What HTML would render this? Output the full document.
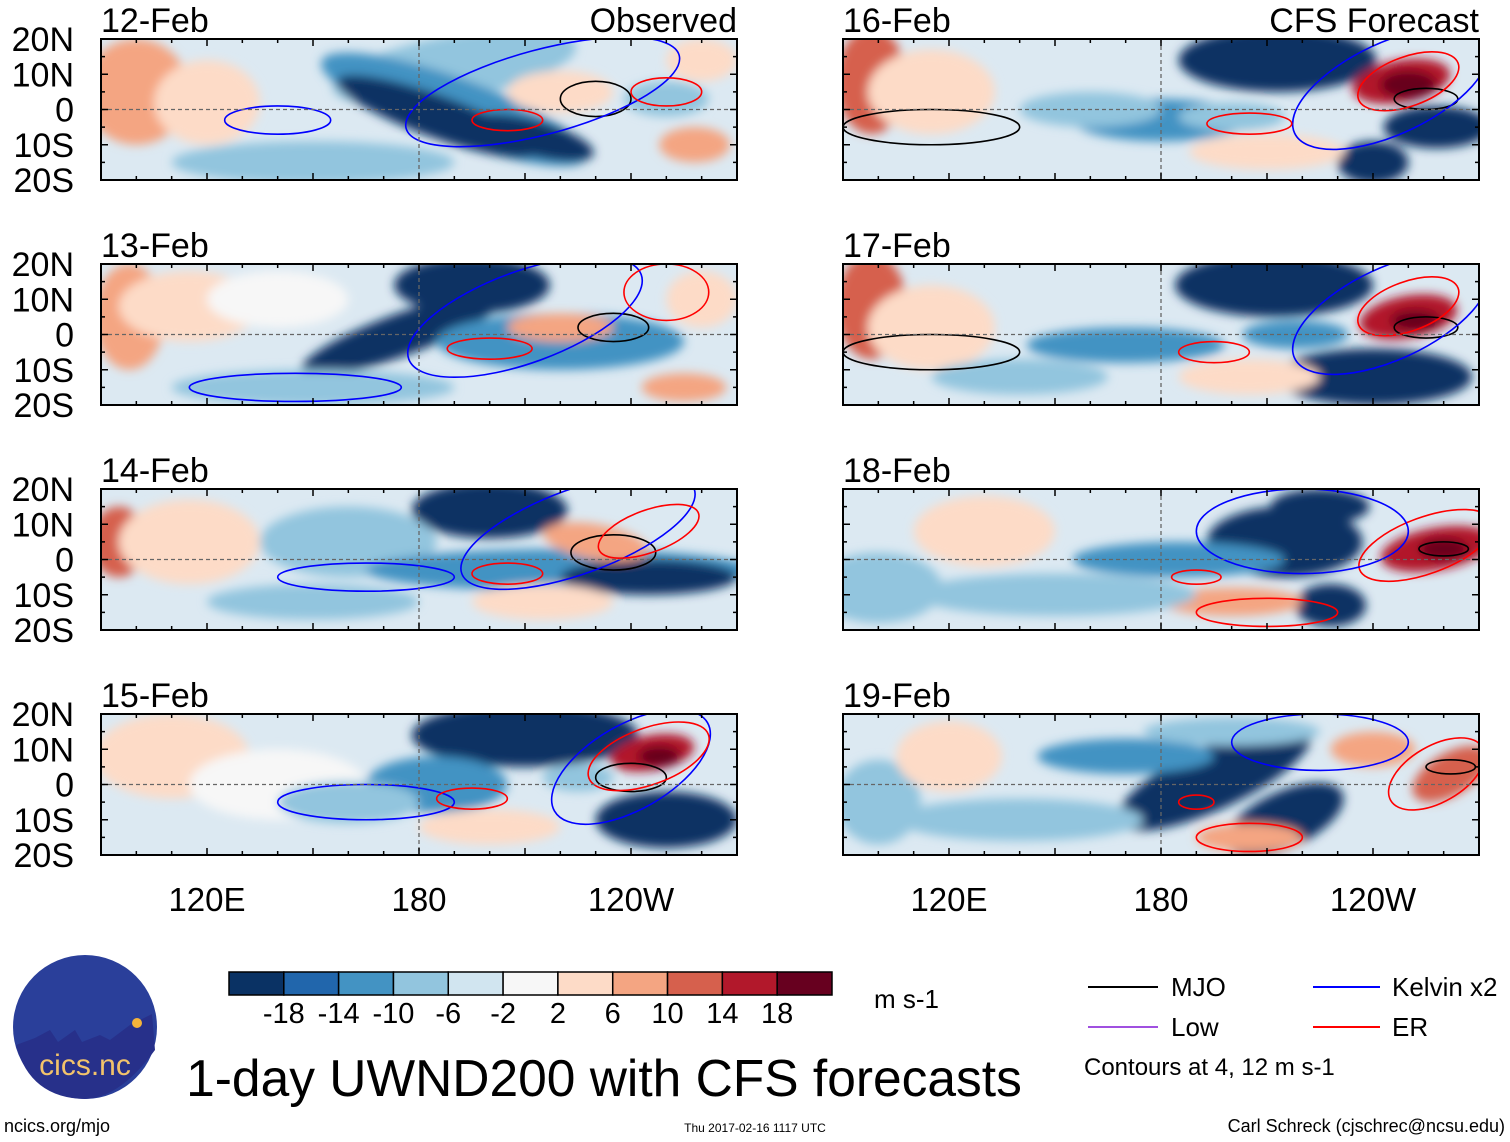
<!DOCTYPE html>
<html><head><meta charset="utf-8"><style>
body{margin:0;background:#fff;}
svg{display:block;font-family:"Liberation Sans",Arial,sans-serif;}
</style></head><body>
<svg id="chart" width="1510" height="1142" viewBox="0 0 1510 1142" xmlns="http://www.w3.org/2000/svg">
<defs>
<filter id="blur" x="-20%" y="-50%" width="140%" height="200%"><feGaussianBlur stdDeviation="5"/></filter>
</defs>
<g id="panels"></g>
<g id="colorbar"></g>
<g>
<circle cx="85" cy="1027" r="72" fill="#2a3f9a"/>
<path d="M16,1045 L35,1038 L50,1030 L58,1042 L75,1030 L82,1042 L100,1035 L110,1040 L130,1025 L152,1014 L155,1050 Q120,1098 85,1099 Q30,1098 16,1045Z" fill="#27308a"/>
<circle cx="137" cy="1023" r="5" fill="#f5b43a"/>
<text x="85" y="1075" text-anchor="middle" font-size="30" fill="#f2c36b">cics.nc</text>
</g>
<text x="604" y="1096" text-anchor="middle" font-size="51.5">1-day UWND200 with CFS forecasts</text>
<text x="874" y="1008" font-size="26">m s-1</text>
<g font-size="26">
<line x1="1088" y1="987" x2="1158" y2="987" stroke="#000" stroke-width="2"/>
<text x="1171" y="996">MJO</text>
<line x1="1313" y1="987" x2="1380" y2="987" stroke="#0000ff" stroke-width="2"/>
<text x="1392" y="996">Kelvin x2</text>
<line x1="1088" y1="1027" x2="1158" y2="1027" stroke="#a050e0" stroke-width="2"/>
<text x="1171" y="1036">Low</text>
<line x1="1313" y1="1027" x2="1380" y2="1027" stroke="#ff0000" stroke-width="2"/>
<text x="1392" y="1036">ER</text>
<text x="1084" y="1075" font-size="24">Contours at 4, 12 m s-1</text>
</g>
<text x="4" y="1132" font-size="18">ncics.org/mjo</text>
<text x="755" y="1132" text-anchor="middle" font-size="12">Thu 2017-02-16 1117 UTC</text>
<text x="1505" y="1132" text-anchor="end" font-size="18">Carl Schreck (cjschrec@ncsu.edu)</text>
</svg>
<script>
const levels=["-18","-14","-10","-6","-2","2","6","10","14","18"];
const colors=["#0a3264","#2166ac","#4393c3","#92c5de","#d1e5f0","#f7f7f7","#fddbc7","#f4a582","#d6604d","#b2182b","#67001f"];
const panelDates=["12-Feb","13-Feb","14-Feb","15-Feb","16-Feb","17-Feb","18-Feb","19-Feb"];
const latTicks=["20N","10N","0","10S","20S"];
const latVals=[20,10,0,-10,-20];
const lonTickLabels=["120E","180","120W"];
const lonTickVals=[120,180,240];
// blobs: [lon, lat, lonRadius, latRadius, rotationDeg, colorIndex]
const blobs0=[[100,5,15,15,0,7],[120,2,15,12,0,6],[150,-15,40,6,0,3],[190,12,35,9,-10,3],[190,0,40,9,20,2],[185,-2,30,6,20,0],[212,-8,18,5,15,0],[220,5,15,6,0,6],[258,-10,10,5,0,7],[260,14,10,6,0,6],[250,3,12,5,0,3]];
const blobs1=[[98,5,10,15,0,7],[115,8,20,10,0,6],[195,14,22,8,0,0],[175,0,30,6,-20,0],[150,-15,40,5,0,3],[220,-2,35,8,0,2],[220,2,15,4,0,7],[260,10,10,8,0,6],[255,-15,12,4,0,7],[140,10,20,8,0,5]];
const blobs2=[[95,5,8,10,0,8],[115,5,20,12,0,6],[200,14,22,8,0,0],[160,5,25,10,0,3],[220,-3,55,6,0,2],[245,-5,25,5,0,0],[230,5,15,5,10,7],[215,-12,20,5,0,6],[150,-12,30,5,0,3]];
const blobs3=[[110,8,22,12,0,6],[210,14,32,9,0,0],[185,0,20,8,0,2],[250,-10,20,8,0,0],[246,9,12,5,-10,9],[248,8,6,3,0,10],[225,2,10,4,0,3],[200,-12,20,5,0,6],[140,0,25,10,0,5],[160,-5,20,6,0,3]];
const blobs4=[[98,8,10,15,0,8],[115,5,18,12,0,6],[213,14,28,9,0,0],[180,-3,25,6,0,2],[160,0,20,5,0,3],[248,8,14,6,-10,9],[250,7,8,4,0,10],[258,-5,15,6,0,0],[240,-15,10,6,0,0],[210,-12,22,5,0,6],[200,-2,15,4,0,3]];
const blobs5=[[98,8,10,15,0,8],[115,2,18,12,0,6],[212,14,28,9,0,0],[170,-3,28,5,0,2],[250,5,14,6,-10,9],[252,4,7,3,0,10],[240,-12,28,8,0,0],[205,-12,20,5,0,6],[218,0,15,4,0,2],[140,-12,25,5,0,3]];
const blobs6=[[100,-8,18,10,0,3],[130,8,20,10,0,6],[215,5,22,10,0,0],[225,15,14,5,0,0],[228,-13,10,6,0,0],[185,0,30,5,0,2],[258,3,16,6,-10,9],[260,3,7,3,0,10],[200,-12,20,4,0,7],[150,-10,40,6,0,3]];
const blobs7=[[100,-5,12,12,0,3],[120,8,15,10,0,6],[195,2,30,9,-25,0],[215,-10,18,8,-25,0],[170,8,25,5,0,2],[262,3,12,6,-30,8],[240,10,12,5,0,7],[140,-10,35,6,0,3],[205,-15,15,4,0,7],[200,15,25,4,0,3]];
const blobSets=[blobs0,blobs1,blobs2,blobs3,blobs4,blobs5,blobs6,blobs7];
// contours: [lon, lat, lonRadius, latRadius, rotation, type]  type: 0 MJO,1 Kelvin,2 ER
const cont0=[[230,3,10,5,0,0],[140,-3,15,4,0,1],[215,5,40,12,-15,1],[205,-3,10,3,0,2],[250,5,10,4,0,2]];
const cont1=[[235,2,10,4,0,0],[210,5,35,13,-20,1],[145,-15,30,4,0,1],[200,-4,12,3,0,2],[250,12,12,8,0,2]];
const cont2=[[235,2,12,5,0,0],[225,8,35,12,-20,1],[165,-5,25,4,0,1],[205,-4,10,3,0,2],[245,8,15,6,-20,2]];
const cont3=[[240,2,10,4,0,0],[240,5,25,12,-30,1],[165,-5,25,5,0,1],[195,-4,10,3,0,2],[245,8,18,8,-20,2]];
const cont4=[[255,3,9,3,0,0],[245,6,30,13,-25,1],[205,-4,12,3,0,2],[250,8,15,7,-20,2],[115,-5,25,5,0,0]];
const cont5=[[255,2,9,3,0,0],[245,6,30,13,-25,1],[195,-5,10,3,0,2],[250,8,15,7,-20,2],[115,-5,25,5,0,0]];
const cont6=[[260,3,7,2,0,0],[255,4,20,8,-20,2],[220,8,30,12,0,1],[190,-5,7,2,0,2],[210,-15,20,4,0,2]];
const cont7=[[262,5,7,2,0,0],[258,3,15,8,-30,2],[225,12,25,8,0,1],[190,-5,5,2,0,2],[205,-15,15,4,0,2]];
const contSets=[cont0,cont1,cont2,cont3,cont4,cont5,cont6,cont7];
const contColors=["#000000","#0000ff","#ff0000"];

const NS="http://www.w3.org/2000/svg";
const panelW=636,panelH=141;
function panelOrigin(i){return [i<4?101:843, [39,264,489,714][i%4]];}
function xScale(lon,x0){return x0+(lon-90)*panelW/180;}
function yScale(lat,y0){return y0+(20-lat)*panelH/40;}
function mk(tag,attrs,parent){const e=document.createElementNS(NS,tag);for(const k in attrs)e.setAttribute(k,attrs[k]);parent.appendChild(e);return e;}
const root=document.getElementById('panels');
for(let i=0;i<8;i++){
  const [x0,y0]=panelOrigin(i);
  const g=mk('g',{},root);
  
  
  const cp=mk('clipPath',{id:'clip'+i},g);
  mk('rect',{x:x0,y:y0,width:panelW,height:panelH},cp);
  const field=mk('g',{'clip-path':'url(#clip'+i+')'},g);
  mk('rect',{x:x0,y:y0,width:panelW,height:panelH,fill:'#dce9f2'},field);
  const fg=mk('g',{filter:'url(#blur)'},field);
  blobSets[i].forEach(b=>{
    const cx=xScale(b[0],x0),cy=yScale(b[1],y0);
    const e=mk('ellipse',{cx:cx,cy:cy,rx:b[2]*panelW/180,ry:b[3]*panelH/40,fill:colors[b[5]],transform:`rotate(${b[4]} ${cx} ${cy})`},fg);
    
    
  });
  contSets[i].forEach(c=>{
    const cx=xScale(c[0],x0),cy=yScale(c[1],y0);
    const e=mk('ellipse',{cx:cx,cy:cy,rx:c[2]*panelW/180,ry:c[3]*panelH/40,fill:'none',stroke:contColors[c[5]],'stroke-width':1.6,transform:`rotate(${c[4]} ${cx} ${cy})`},field);
    
    
  });
  mk('line',{x1:x0,x2:x0+panelW,y1:yScale(0,y0),y2:yScale(0,y0),stroke:'#666','stroke-dasharray':'4 3','stroke-width':1.3},field);
  mk('line',{x1:xScale(180,x0),x2:xScale(180,x0),y1:y0,y2:y0+panelH,stroke:'#666','stroke-dasharray':'4 3','stroke-width':1.3},field);
  mk('rect',{x:x0,y:y0,width:panelW,height:panelH,fill:'none',stroke:'#000','stroke-width':2},g);
  for(let lon=100;lon<=260;lon+=10){const x=xScale(lon,x0);const L=(lon%30==0)?7:4;
    mk('line',{x1:x,x2:x,y1:y0,y2:y0+L,stroke:'#000','stroke-width':1.5},g);
    mk('line',{x1:x,x2:x,y1:y0+panelH,y2:y0+panelH-L,stroke:'#000','stroke-width':1.5},g);}
  for(let lat=-20;lat<=20;lat+=5){const y=yScale(lat,y0);const L=(lat%10==0)?7:4;
    mk('line',{x1:x0,x2:x0+L,y1:y,y2:y,stroke:'#000','stroke-width':1.5},g);
    mk('line',{x1:x0+panelW,x2:x0+panelW-L,y1:y,y2:y,stroke:'#000','stroke-width':1.5},g);}
  const t=mk('text',{x:x0,y:y0-7,'font-size':34},g);t.textContent=panelDates[i];
  
  
  if(i<4){latTicks.forEach((lab,j)=>{const tt=mk('text',{x:x0-27,y:yScale(latVals[j],y0)+12,'font-size':34,'text-anchor':'end'},g);tt.textContent=lab;
    
    });}
}
[[737,"Observed"],[1479,"CFS Forecast"]].forEach(a=>{const t=mk('text',{x:a[0],y:32,'font-size':34,'text-anchor':'end'},root);t.textContent=a[1];
  
  });
[101,843].forEach(x0=>{lonTickLabels.forEach((lab,j)=>{const t=mk('text',{x:xScale(lonTickVals[j],x0),y:911,'font-size':33,'text-anchor':'middle'},root);t.textContent=lab;
  
  });});
const cb=document.getElementById('colorbar');
const cbX=229,cbW=603,cbY=972,cbH=23,bw=cbW/colors.length;
colors.forEach((c,k)=>{const r=mk('rect',{x:cbX+k*bw,y:cbY,width:bw,height:cbH,fill:c,stroke:'#000','stroke-width':1.5},cb);
  
  });
levels.forEach((l,k)=>{const t=mk('text',{x:cbX+(k+1)*bw,y:1023,'font-size':29,'text-anchor':'middle'},cb);t.textContent=l;
  
  });
</script>
</body></html>
